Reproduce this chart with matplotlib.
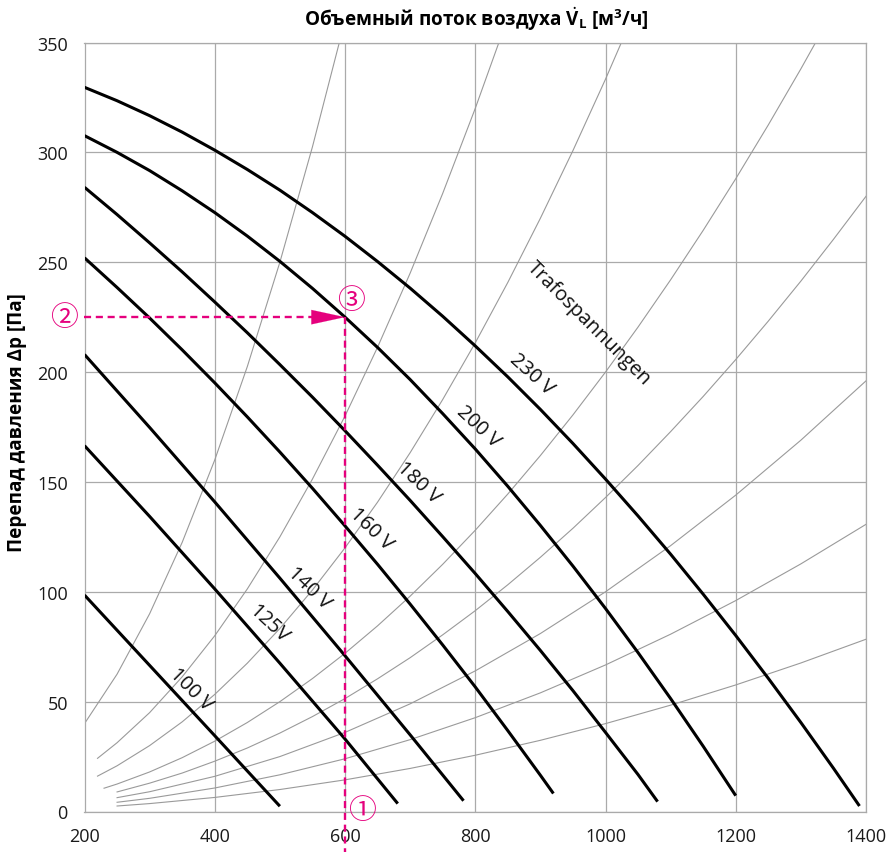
import matplotlib
matplotlib.use("Agg")
import matplotlib.pyplot as plt

FONT = "Open Sans"
plt.rcParams.update({
    "font.family": [FONT, "DejaVu Sans"],
    "mathtext.fontset": "custom",
    "mathtext.rm": FONT,
    "mathtext.bf": f"{FONT}:bold",
    "mathtext.it": f"{FONT}:italic",
})

PINK = "#e5007d"
GRID = "#aaaaaa"
SYS_GRAY = "#9a9a9a"

# ─── Fan curves (Volumenstrom m³/h -> Druck Pa) per transformer voltage ──────
V100_X = [200, 300, 400, 500]
V100_Y = [98.5, 66.5, 34.5, 2.4]

V125_X = [200, 300, 400, 500, 600, 681]
V125_Y = [166.5, 134.3, 101.3, 67.5, 33.0, 3.6]

V140_X = [200, 300, 400, 500, 600, 700, 782]
V140_Y = [208.0, 174.8, 140.9, 106.2, 70.9, 34.9, 4.9]

V160_X = [200, 250, 300, 350, 400, 450, 500, 550, 600, 650, 700, 750, 800,
          850, 900, 920]
V160_Y = [252.0, 238.5, 224.6, 210.1, 195.1, 179.6, 163.6, 147.1, 130.0,
          112.5, 94.4, 75.8, 56.7, 36.8, 16.5, 8.2]

V180_X = [200, 250, 300, 350, 400, 450, 500, 550, 600, 650, 700, 750, 800,
          850, 900, 950, 1000, 1050, 1080]
V180_Y = [284.1, 271.7, 258.8, 245.6, 231.9, 217.9, 203.4, 188.6, 173.3,
          157.6, 141.6, 125.1, 108.3, 91.0, 73.3, 55.0, 36.0, 16.8, 4.5]

V200_X = [200, 250, 300, 350, 400, 450, 500, 550, 600, 650, 700, 750, 800,
          850, 900, 950, 1000, 1050, 1100, 1150, 1200]
V200_Y = [307.6, 300.0, 291.7, 282.5, 272.6, 261.9, 250.4, 238.1, 225.0,
          211.2, 196.6, 181.1, 165.0, 148.0, 130.2, 111.7, 92.4, 72.3,
          51.4, 29.7, 7.2]

V230_X = [200, 250, 300, 350, 400, 450, 500, 550, 600, 650, 700, 750, 800,
          850, 900, 950, 1000, 1050, 1100, 1150, 1200, 1250, 1300, 1350,
          1390]
V230_Y = [329.6, 323.5, 316.7, 309.2, 301.0, 292.2, 282.8, 272.6, 261.8,
          250.3, 238.2, 225.4, 211.9, 197.8, 183.0, 167.5, 151.3, 134.5,
          117.1, 98.9, 80.1, 60.6, 40.5, 19.7, 2.5]

FAN_CURVES = [(V100_X, V100_Y), (V125_X, V125_Y), (V140_X, V140_Y),
              (V160_X, V160_Y), (V180_X, V180_Y), (V200_X, V200_Y),
              (V230_X, V230_Y)]

# ─── System curves (thin gray) ───────────────────────────────────────────────
S1_X = [200, 250, 300, 350, 400, 450, 500, 550, 600]
S1_Y = [40.0, 62.5, 90.0, 122.5, 160.0, 202.5, 250.0, 302.5, 360.0]

S2_X = [220, 250, 300, 350, 400, 450, 500, 550, 600, 650, 700, 750, 800, 850]
S2_Y = [24.2, 31.3, 45.0, 61.3, 80.0, 101.3, 125.0, 151.3, 180.0, 211.3,
        245.0, 281.3, 320.0, 361.3]

S3_X = [220, 250, 300, 350, 400, 450, 500, 550, 600, 650, 700, 750, 800,
        850, 900, 950, 1000, 1050]
S3_Y = [16.1, 20.8, 30.0, 40.8, 53.3, 67.5, 83.3, 100.8, 120.0, 140.8,
        163.3, 187.5, 213.3, 240.8, 270.0, 300.8, 333.3, 367.5]

S4_X = [230, 250, 300, 350, 400, 450, 500, 550, 600, 650, 700, 750, 800,
        850, 900, 950, 1000, 1050, 1100, 1150, 1200, 1250, 1300, 1350]
S4_Y = [10.6, 12.5, 18.0, 24.5, 32.0, 40.5, 50.0, 60.5, 72.0, 84.5, 98.0,
        112.5, 128.0, 144.5, 162.0, 180.5, 200.0, 220.5, 242.0, 264.5,
        288.0, 312.5, 338.0, 364.5]

S5_X = [250, 300, 350, 400, 450, 500, 550, 600, 650, 700, 750, 800, 850,
        900, 950, 1000, 1050, 1100, 1150, 1200, 1250, 1300, 1350, 1400]
S5_Y = [8.9, 12.9, 17.5, 22.9, 28.9, 35.7, 43.2, 51.4, 60.4, 70.0, 80.4,
        91.4, 103.2, 115.7, 128.9, 142.9, 157.5, 172.9, 188.9, 205.7,
        223.2, 241.4, 260.4, 280.0]

S6_X = [250, 300, 400, 500, 600, 700, 800, 900, 1000, 1100, 1200, 1300, 1400]
S6_Y = [6.3, 9.0, 16.0, 25.0, 36.0, 49.0, 64.0, 81.0, 100.0, 121.0, 144.0,
        169.0, 196.0]

S7_X = [250, 300, 400, 500, 600, 700, 800, 900, 1000, 1100, 1200, 1300, 1400]
S7_Y = [4.2, 6.0, 10.7, 16.7, 24.0, 32.7, 42.7, 54.0, 66.7, 80.7, 96.0,
        112.7, 130.7]

S8_X = [250, 300, 400, 500, 600, 700, 800, 900, 1000, 1100, 1200, 1300, 1400]
S8_Y = [2.5, 3.6, 6.4, 10.0, 14.4, 19.6, 25.6, 32.4, 40.0, 48.4, 57.6,
        67.6, 78.4]

SYSTEM_CURVES = [(S1_X, S1_Y), (S2_X, S2_Y), (S3_X, S3_Y), (S4_X, S4_Y),
                 (S5_X, S5_Y), (S6_X, S6_Y), (S7_X, S7_Y), (S8_X, S8_Y)]

# ─── Curve labels: text, position, rotation ──────────────────────────────────
LABELS = ["100 V", "125V", "140 V", "160 V", "180 V", "200 V", "230 V",
          "Trafospannungen"]
LABEL_X = [363, 482, 545, 640, 712, 804, 887, 975]
LABEL_Y = [55.8, 85.8, 102.2, 129.0, 149.9, 175.5, 199.1, 222.3]
LABEL_ROT = [-45, -43, -44, -44, -43, -43, -42, -45]

# operating point example
OP_X, OP_Y = 600, 225

X_TICKS = [200, 400, 600, 800, 1000, 1200, 1400]
Y_TICKS = [0, 50, 100, 150, 200, 250, 300, 350]

# ─── Figure ──────────────────────────────────────────────────────────────────
fig = plt.figure(figsize=(8.89, 8.53), dpi=100)
ax = fig.add_axes([84.5 / 889, 1 - 812.5 / 853, 781.5 / 889, 769 / 853])
ax.set_xlim(200, 1400)
ax.set_ylim(0, 350)
ax.set_xticks(X_TICKS)
ax.set_yticks(Y_TICKS)
ax.grid(True, color=GRID, lw=0.9)
ax.set_axisbelow(True)
for sp in ax.spines.values():
    sp.set_color(GRID)
    sp.set_linewidth(0.9)
ax.tick_params(length=0, labelsize=13, colors="#1a1a1a")
ax.tick_params(axis="x", pad=11)
ax.tick_params(axis="y", pad=12)

for xs, ys in SYSTEM_CURVES:
    ax.plot(xs, ys, color=SYS_GRAY, lw=0.8, zorder=2)

for xs, ys in FAN_CURVES:
    ax.plot(xs, ys, color="black", lw=2.2, zorder=3,
            solid_capstyle="butt", solid_joinstyle="round")

for txt, lx, ly, rot in zip(LABELS, LABEL_X, LABEL_Y, LABEL_ROT):
    ax.text(lx, ly, txt, rotation=rot, rotation_mode="anchor",
            ha="center", va="center", fontsize=14.5, color="#111111",
            zorder=4)

# pink reading example
ax.plot([200, OP_X - 20], [OP_Y, OP_Y], color=PINK, lw=1.7,
        dashes=(3, 2.0), zorder=5, clip_on=False)
ax.plot([OP_X, OP_X], [OP_Y, -19], color=PINK, lw=1.7,
        dashes=(3, 2.0), zorder=5, clip_on=False)
ax.annotate("", xy=(OP_X, OP_Y), xytext=(OP_X - 50, OP_Y),
            arrowprops=dict(arrowstyle="-|>,head_length=1.2,head_width=0.26",
                            color=PINK, lw=0.1, shrinkA=0, shrinkB=0,
                            mutation_scale=20),
            zorder=6)

circ = dict(color=PINK, fontsize=20, ha="center", va="center",
            family=["Noto Sans CJK JP", "DejaVu Sans"], zorder=6)
ax.text(626.5, 0.5, "①", clip_on=False, **circ)
ax.text(168.5, 225, "②", clip_on=False, **circ)
ax.text(609, 233, "③", clip_on=False, **circ)

fig.text(476 / 889, 1 - 19 / 853,
         r"Объемный поток воздуха $\mathbf{\dot{V}_L}$ [м$^\mathbf{3}$/ч]",
         ha="center", va="center", fontsize=13.6, fontweight="bold")
fig.text(17 / 889, 430 / 853, "Перепад давления Δp [Па]", rotation=90,
         ha="center", va="center", fontsize=13.6, fontweight="bold")

fig.savefig("out.png", dpi=100)
